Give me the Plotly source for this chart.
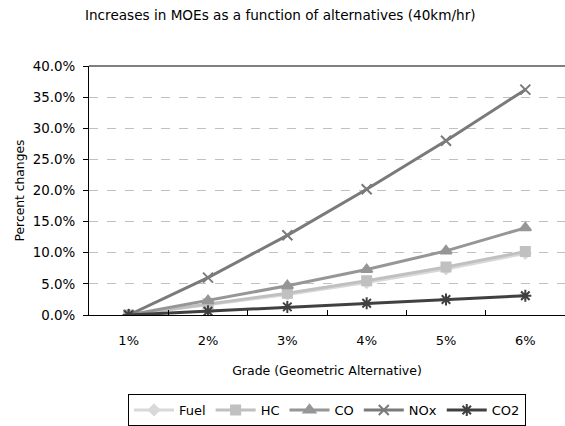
import plotly.graph_objects as go

grades = ["1%", "2%", "3%", "4%", "5%", "6%"]
fuel = [0.0, 1.6, 3.3, 5.2, 7.4, 9.9]
hc = [0.0, 1.8, 3.5, 5.5, 7.7, 10.2]
co = [0.0, 2.3, 4.7, 7.3, 10.3, 14.0]
nox = [0.0, 6.0, 12.8, 20.2, 28.0, 36.2]
co2 = [0.0, 0.6, 1.3, 1.9, 2.5, 3.1]

series = [
    ("Fuel", fuel, "#d9d9d9", "diamond", 8),
    ("HC", hc, "#c0c0c0", "square", 9),
    ("CO", co, "#969696", "triangle-up", 10),
    ("NOx", nox, "#7a7a7a", "x-thin-open", 10),
    ("CO2", co2, "#404040", "asterisk-open", 10),
]

font = "DejaVu Sans"
fig = go.Figure()
for name, vals, col, sym, sz in series:
    fig.add_trace(go.Scatter(
        x=grades, y=vals, name=name, mode="lines+markers",
        line=dict(color=col, width=3),
        marker=dict(symbol=sym, size=sz, color=col,
                    line=dict(color=col, width=2)),
    ))

fig.update_layout(
    width=565, height=426,
    margin=dict(l=89, r=0, t=66, b=109),
    paper_bgcolor="white", plot_bgcolor="white",
    font=dict(family=font, size=12, color="#000000"),
    title=dict(text="Increases in MOEs as a function of alternatives (40km/hr)",
               x=85/565, xanchor="left", y=1-15/426, yanchor="middle",
               font=dict(family=font, size=13.6, color="#000000")),
    showlegend=True,
    legend=dict(orientation="h", x=0.5, xanchor="center", y=-0.318, yanchor="top",
                bordercolor="#000000", borderwidth=1, bgcolor="white",
                font=dict(family=font, size=13), itemwidth=40,
                tracegroupgap=0),
    xaxis=dict(
        type="category", showgrid=False, showline=True, linecolor="#000000", linewidth=1,
        ticks="inside", ticklen=5, tickcolor="#000000", tickson="boundaries",
        tickfont=dict(family=font, size=13), ticklabelstandoff=13,
        title=dict(text="Grade (Geometric Alternative)", font=dict(family=font, size=12.5), standoff=19),
        range=[-0.5, 5.5],
    ),
    yaxis=dict(
        range=[0, 40], dtick=5, tickformat=".1f", ticksuffix="%",
        showgrid=True, gridcolor="#c0c0c0", griddash="dash", gridwidth=1,
        showline=True, linecolor="#000000", linewidth=1,
        ticks="outside", ticklen=5, tickcolor="#000000",
        tickfont=dict(family=font, size=13.4), ticklabelstandoff=5,
        zeroline=False,
        title=dict(text="Percent changes", font=dict(family=font, size=12.3), standoff=5),
    ),
    shapes=[dict(type="line", xref="paper", yref="paper", x0=0, x1=1, y0=1, y1=1,
                 line=dict(color="#808080", width=2))],
)

fig.write_html("out.html")
